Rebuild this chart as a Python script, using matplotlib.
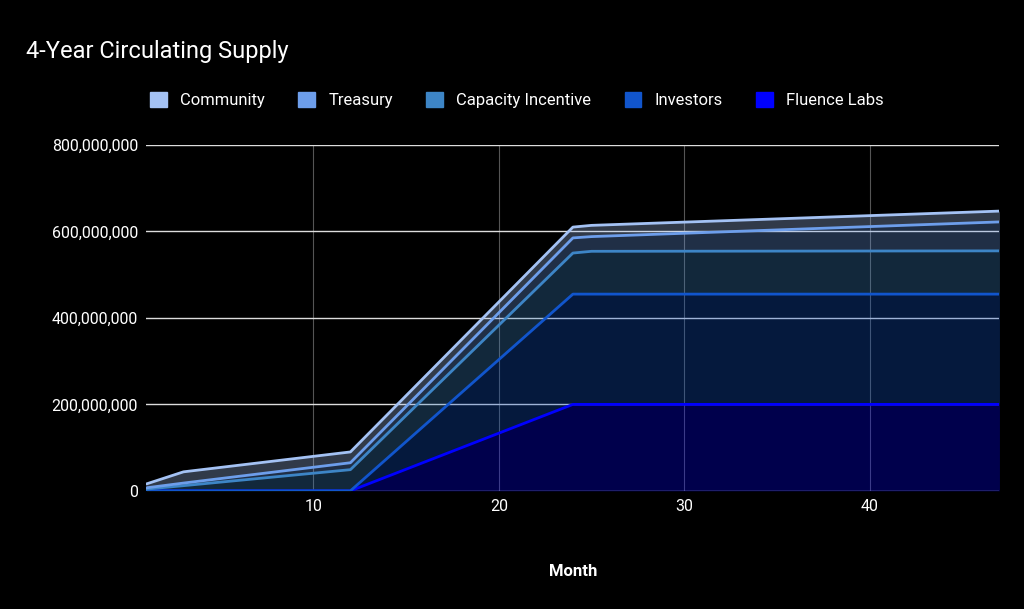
import matplotlib
matplotlib.use("Agg")
import matplotlib.pyplot as plt
import numpy as np

plt.rcParams["font.family"] = "Roboto"

months = [1, 3, 12, 24, 25, 47]
fluence = [0, 0, 0, 200e6, 200e6, 200e6]
investors = [0, 0, 0, 255e6, 255e6, 255e6]
capacity = [4e6, 12e6, 49e6, 95e6, 99e6, 100e6]
treasury = [3e6, 6e6, 16e6, 35e6, 34e6, 67e6]
community = [9e6, 26e6, 25e6, 25e6, 26e6, 25e6]
names = ["Fluence Labs", "Investors", "Capacity Incentive", "Treasury", "Community"]
colors = ["#0000ff", "#1155cc", "#3d85c6", "#6d9eeb", "#a4c2f4"]

fig = plt.figure(figsize=(10.24, 6.09), dpi=100, facecolor="black")
ax = fig.add_axes([0.143, 0.194, 0.833, 0.568])
ax.set_facecolor("black")
series = [fluence, investors, capacity, treasury, community]
base = np.zeros(len(months))
handles = []
for s, c, n in zip(series, colors, names):
    top = base + np.array(s)
    ax.fill_between(months, base, top, color=c, alpha=0.3, linewidth=0)
    ax.plot(months, top, color=c, lw=2)
    handles.append(plt.Rectangle((0, 0), 1, 1, color=c, label=n))
    base = top
ax.set_xlim(1, 47)
ax.set_ylim(0, 800e6)
ax.set_yticks([0, 200e6, 400e6, 600e6, 800e6])
ax.set_yticklabels(["0", "200,000,000", "400,000,000", "600,000,000", "800,000,000"])
ax.set_xticks([10, 20, 30, 40])
ax.yaxis.grid(True, color="#dddddd", lw=1)
ax.xaxis.grid(True, color="#555555", lw=0.8)
ax.set_axisbelow(True)
for sp in ax.spines.values():
    sp.set_visible(False)
ax.tick_params(colors="white", length=0, labelsize=11.5, pad=6)
ax.set_xlabel("Month", color="white", fontsize=12, fontweight="bold", labelpad=36)
fig.text(0.025, 0.905, "4-Year Circulating Supply", color="white", fontsize=17)
leg = fig.legend(handles=handles[::-1], loc="center", bbox_to_anchor=(0.505, 0.836), ncol=5,
                 frameon=False, fontsize=12, labelcolor="white", handlelength=1, handleheight=1,
                 columnspacing=2.0)
fig.savefig("out.png", facecolor="black")
